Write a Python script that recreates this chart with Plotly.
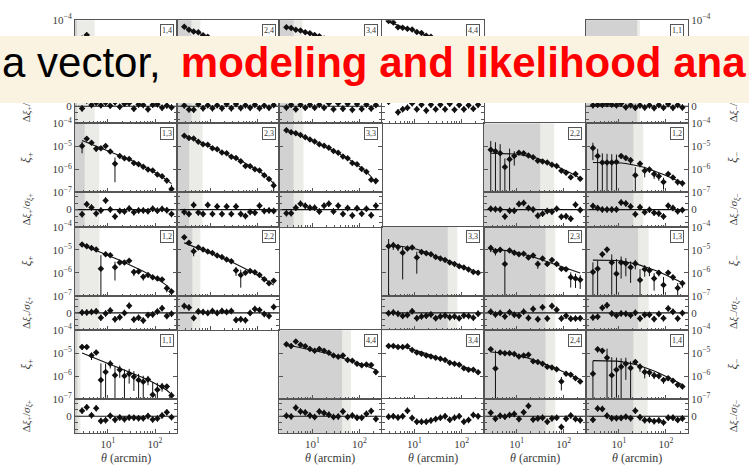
import plotly.graph_objects as go

# ---------------- data ----------------
THETA = [2.82, 3.55, 4.47, 5.62, 7.08, 8.91, 11.2, 14.1, 17.8, 22.4,
         28.2, 35.5, 44.7, 56.2, 70.8, 89.1, 112.0, 141.0, 178.0, 224.0]

# log10 model, log10 data, relative sigma for each tomographic panel
m_p14 = [-4.72,-4.78,-4.85,-4.92,-4.99,-5.06,-5.13,-5.21,-5.29,-5.37,-5.45,-5.54,-5.63,-5.72,-5.82,-5.93,-6.04,-6.16,-6.30,-6.46]
d_p14 = [-4.80,-4.65,-4.82,-4.85,-4.97,-5.00,-5.12,-5.15,-5.30,-5.33,-5.40,-5.58,-5.60,-5.70,-5.88,-5.90,-6.00,-6.20,-6.28,-6.50]
s_p14 = [0.25,0.20,0.18,0.16,0.15,0.14,0.13,0.12,0.12,0.12,0.12,0.12,0.13,0.13,0.14,0.15,0.16,0.18,0.20,0.25]

m_p24 = [-4.30,-4.38,-4.46,-4.55,-4.64,-4.73,-4.82,-4.91,-5.00,-5.10,-5.20,-5.30,-5.40,-5.51,-5.62,-5.74,-5.87,-6.01,-6.17,-6.38]
d_p24 = [-4.29,-4.42,-4.50,-4.53,-4.66,-4.72,-4.84,-4.90,-5.02,-5.08,-5.22,-5.28,-5.42,-5.50,-5.64,-5.72,-5.90,-6.00,-6.20,-6.35]
s_p24 = [0.10,0.09,0.08,0.08,0.07,0.07,0.07,0.07,0.07,0.07,0.07,0.07,0.08,0.08,0.09,0.10,0.11,0.12,0.14,0.18]

m_p34 = [-4.30,-4.35,-4.40,-4.46,-4.52,-4.58,-4.64,-4.71,-4.79,-4.87,-4.96,-5.05,-5.15,-5.26,-5.37,-5.49,-5.62,-5.76,-5.92,-6.12]
d_p34 = [-4.31,-4.34,-4.42,-4.45,-4.53,-4.57,-4.65,-4.70,-4.80,-4.85,-4.98,-5.03,-5.17,-5.24,-5.40,-5.47,-5.65,-5.74,-5.95,-6.10]
s_p34 = [0.06,0.05,0.05,0.05,0.05,0.05,0.05,0.05,0.05,0.05,0.05,0.05,0.06,0.06,0.06,0.07,0.08,0.09,0.10,0.12]

m_p44 = [-4.08,-4.16,-4.24,-4.31,-4.37,-4.43,-4.50,-4.57,-4.65,-4.73,-4.82,-4.91,-5.01,-5.11,-5.22,-5.34,-5.47,-5.61,-5.77,-5.95]
d_p44 = [-4.04,-4.10,-4.31,-4.33,-4.38,-4.41,-4.52,-4.56,-4.68,-4.72,-4.84,-4.90,-5.03,-5.09,-5.25,-5.33,-5.50,-5.60,-5.80,-5.93]
s_p44 = [0.07,0.06,0.08,0.05,0.05,0.05,0.05,0.05,0.05,0.05,0.05,0.05,0.05,0.06,0.06,0.06,0.07,0.08,0.09,0.11]

m_m11 = [-5.75,-5.75,-5.76,-5.77,-5.79,-5.81,-5.84,-5.88,-5.93,-5.99,-6.05,-6.12,-6.19,-6.27,-6.35,-6.44,-6.53,-6.63,-6.73,-6.84]
d_m11 = [-5.60,-5.55,-5.58,-5.52,-5.60,-5.70,-5.62,-5.98,-5.85,-6.10,-6.00,-6.20,-6.15,-6.35,-6.30,-6.50,-6.45,-6.70,-6.68,-6.90]
s_m11 = [1.5,1.3,1.2,1.1,1.0,0.9,0.8,0.7,0.6,0.5,0.45,0.4,0.35,0.3,0.3,0.3,0.3,0.3,0.3,0.35]

m_p13 = [-4.74,-4.82,-4.90,-4.98,-5.06,-5.14,-5.22,-5.30,-5.39,-5.48,-5.57,-5.66,-5.76,-5.86,-5.96,-6.07,-6.19,-6.32,-6.46,-6.62]
d_p13 = [-4.98,-4.67,-4.84,-5.10,-5.08,-4.98,-5.22,-5.75,-5.42,-5.52,-5.55,-5.72,-5.78,-5.88,-6.00,-6.05,-6.22,-6.30,-6.48,-6.85]
s_p13 = [0.30,0.25,0.22,0.20,0.18,0.16,0.15,0.30,0.15,0.15,0.15,0.15,0.16,0.17,0.18,0.19,0.20,0.22,0.25,0.30]

m_p23 = [-4.52,-4.60,-4.69,-4.78,-4.87,-4.96,-5.05,-5.14,-5.23,-5.32,-5.42,-5.52,-5.62,-5.73,-5.84,-5.96,-6.09,-6.23,-6.40,-6.62]
d_p23 = [-4.54,-4.63,-4.66,-4.80,-4.90,-4.93,-5.08,-5.12,-5.26,-5.30,-5.45,-5.50,-5.65,-5.85,-5.86,-5.99,-6.05,-6.25,-6.42,-6.70]
s_p23 = [0.06,0.05,0.05,0.05,0.05,0.05,0.05,0.05,0.05,0.05,0.05,0.05,0.05,0.12,0.06,0.07,0.08,0.10,0.15,0.40]

m_p33 = [-4.28,-4.36,-4.44,-4.53,-4.62,-4.71,-4.80,-4.89,-4.99,-5.09,-5.19,-5.30,-5.41,-5.53,-5.65,-5.79,-5.94,-6.11,-6.32,-6.65]
d_p33 = [-4.30,-4.38,-4.43,-4.50,-4.60,-4.70,-4.79,-4.90,-4.97,-5.06,-5.20,-5.28,-5.44,-5.52,-5.72,-5.78,-5.98,-6.10,-6.45,-6.50]
s_p33 = [0.04,0.04,0.04,0.04,0.04,0.04,0.04,0.04,0.04,0.04,0.04,0.04,0.05,0.05,0.08,0.06,0.07,0.09,0.15,0.35]

m_m22 = [-5.30,-5.30,-5.30,-5.31,-5.32,-5.33,-5.35,-5.38,-5.42,-5.47,-5.53,-5.60,-5.68,-5.77,-5.86,-5.95,-6.05,-6.16,-6.27,-6.40]
d_m22 = [-5.14,-5.21,-5.30,-5.90,-5.56,-5.42,-5.28,-5.30,-5.40,-5.47,-5.62,-5.66,-5.70,-5.80,-5.85,-6.06,-6.15,-6.34,-6.20,-6.41]
s_m22 = [2.0,1.8,1.5,0.35,1.1,0.5,0.10,0.10,0.10,0.10,0.10,0.10,0.10,0.10,0.10,0.10,0.10,0.12,0.12,0.14]

m_m12 = [-5.70,-5.70,-5.70,-5.70,-5.70,-5.71,-5.72,-5.74,-5.77,-5.81,-5.86,-5.92,-5.99,-6.06,-6.14,-6.22,-6.31,-6.40,-6.49,-6.58]
d_m12 = [-5.07,-5.42,-5.70,-5.70,-5.70,-5.68,-5.42,-5.50,-5.60,-6.26,-5.75,-6.06,-6.00,-6.20,-6.30,-6.55,-6.20,-6.35,-6.55,-6.60]
s_m12 = [3.0,2.0,1.5,1.4,1.3,1.2,0.45,0.40,0.5,0.45,0.4,0.35,0.3,0.28,0.25,0.25,0.25,0.25,0.25,0.28]

m_p12 = [-4.78,-4.86,-4.94,-5.02,-5.10,-5.19,-5.28,-5.37,-5.46,-5.55,-5.64,-5.74,-5.84,-5.94,-6.05,-6.16,-6.28,-6.41,-6.56,-6.78]
d_p12 = [-4.77,-4.85,-4.92,-4.99,-5.83,-5.20,-5.24,-5.76,-5.55,-5.55,-5.48,-5.97,-5.95,-6.18,-6.10,-6.20,-6.25,-6.30,-6.68,-6.82]
s_p12 = [0.20,0.18,0.16,0.15,0.55,0.14,0.13,0.30,0.14,0.14,0.20,0.20,0.15,0.18,0.16,0.17,0.18,0.20,0.25,0.30]

m_p22 = [-4.70,-4.78,-4.85,-4.92,-5.00,-5.08,-5.16,-5.25,-5.34,-5.43,-5.52,-5.62,-5.72,-5.82,-5.92,-6.03,-6.14,-6.26,-6.39,-6.54]
d_p22 = [-4.46,-4.70,-5.06,-4.90,-4.99,-5.08,-5.14,-5.25,-5.32,-5.42,-5.50,-5.90,-6.10,-6.00,-5.92,-5.98,-6.10,-6.28,-6.46,-6.35]
s_p22 = [0.35,0.12,0.25,0.10,0.09,0.08,0.08,0.08,0.08,0.08,0.08,0.22,0.30,0.15,0.10,0.10,0.11,0.13,0.16,0.30]

m_m33 = [-4.82,-4.82,-4.84,-4.86,-4.89,-4.93,-4.98,-5.04,-5.11,-5.18,-5.26,-5.34,-5.42,-5.50,-5.58,-5.66,-5.74,-5.82,-5.90,-5.99]
d_m33 = [-4.85,-4.80,-4.88,-5.13,-4.95,-4.90,-5.34,-5.10,-5.15,-5.20,-5.32,-5.38,-5.45,-5.55,-5.62,-5.72,-5.77,-5.86,-5.97,-6.00]
s_m33 = [1.0,0.4,0.3,0.5,0.2,0.15,0.35,0.12,0.10,0.09,0.08,0.08,0.08,0.08,0.08,0.08,0.08,0.09,0.10,0.10]

m_m23 = [-4.98,-4.99,-5.00,-5.02,-5.05,-5.09,-5.14,-5.19,-5.25,-5.31,-5.38,-5.45,-5.52,-5.59,-5.66,-5.73,-5.80,-5.87,-5.94,-6.01]
d_m23 = [-4.92,-5.06,-5.00,-5.62,-5.03,-5.13,-5.20,-5.17,-5.34,-5.25,-5.62,-5.38,-5.62,-5.45,-5.62,-5.83,-5.85,-6.20,-6.25,-6.31]
s_m23 = [0.40,0.30,0.25,0.70,0.20,0.15,0.15,0.12,0.12,0.12,0.22,0.10,0.12,0.18,0.10,0.12,0.12,0.30,0.30,0.30]

m_m13 = [-5.45,-5.45,-5.45,-5.45,-5.46,-5.47,-5.49,-5.52,-5.56,-5.61,-5.67,-5.73,-5.80,-5.88,-5.96,-6.05,-6.14,-6.24,-6.34,-6.45]
d_m13 = [-5.97,-5.83,-5.20,-4.99,-5.55,-6.04,-5.55,-5.60,-5.76,-5.60,-6.32,-5.85,-5.90,-6.25,-6.00,-6.53,-6.00,-6.20,-6.66,-6.46]
s_m13 = [0.5,0.5,0.5,0.8,1.0,0.9,0.7,0.6,0.5,0.45,0.45,0.4,0.35,0.3,0.28,0.4,0.28,0.3,0.3,0.35]

m_p11 = [-5.00,-5.08,-5.16,-5.24,-5.32,-5.40,-5.48,-5.56,-5.64,-5.72,-5.80,-5.89,-5.98,-6.07,-6.16,-6.26,-6.37,-6.49,-6.62,-6.80]
d_p11 = [-4.73,-4.73,-5.11,-4.97,-6.17,-5.82,-5.46,-5.96,-5.73,-6.00,-5.90,-6.03,-6.17,-6.25,-6.15,-6.81,-6.60,-6.45,-6.45,-6.85]
s_p11 = [0.50,0.45,0.40,0.35,0.60,0.50,0.40,0.55,0.45,0.50,0.50,0.55,0.55,0.55,0.45,0.70,0.60,0.45,0.40,0.40]

m_m44 = [-4.64,-4.68,-4.72,-4.76,-4.80,-4.84,-4.88,-4.93,-4.98,-5.03,-5.09,-5.15,-5.21,-5.28,-5.35,-5.42,-5.49,-5.56,-5.64,-5.73]
d_m44 = [-4.62,-4.69,-4.50,-4.64,-4.70,-4.82,-4.90,-4.82,-4.90,-4.99,-5.11,-5.16,-5.10,-5.30,-5.33,-5.46,-5.53,-5.50,-5.52,-5.82]
s_m44 = [0.25,0.25,0.25,0.22,0.22,0.20,0.20,0.20,0.20,0.20,0.20,0.20,0.20,0.20,0.20,0.20,0.20,0.20,0.20,0.22]

m_m34 = [-4.68,-4.69,-4.71,-4.74,-4.78,-4.83,-4.89,-4.95,-5.02,-5.09,-5.16,-5.23,-5.30,-5.37,-5.44,-5.51,-5.58,-5.66,-5.74,-5.83]
d_m34 = [-4.69,-4.69,-4.73,-4.74,-4.70,-4.86,-4.97,-5.03,-5.10,-5.15,-5.20,-5.25,-5.30,-5.42,-5.46,-5.51,-5.66,-5.72,-5.72,-5.83]
s_m34 = [0.14,0.13,0.12,0.12,0.12,0.12,0.10,0.10,0.10,0.10,0.10,0.10,0.10,0.10,0.10,0.10,0.10,0.11,0.12,0.13]

m_m24 = [-4.95,-4.96,-4.98,-5.00,-5.03,-5.07,-5.11,-5.16,-5.22,-5.29,-5.36,-5.44,-5.52,-5.60,-5.68,-5.77,-5.86,-5.95,-6.05,-6.15]
d_m24 = [-4.83,-5.67,-4.97,-5.01,-5.01,-5.04,-5.15,-5.11,-5.07,-5.36,-5.39,-5.46,-5.60,-5.63,-5.70,-6.24,-5.90,-5.94,-6.10,-6.24]
s_m24 = [0.30,1.00,0.20,0.15,0.12,0.10,0.10,0.10,0.13,0.15,0.10,0.10,0.10,0.10,0.10,0.20,0.12,0.12,0.13,0.15]

m_m14 = [-5.33,-5.33,-5.33,-5.33,-5.34,-5.35,-5.37,-5.40,-5.44,-5.49,-5.55,-5.62,-5.70,-5.78,-5.87,-5.96,-6.06,-6.16,-6.27,-6.38]
d_m14 = [-5.90,-4.83,-4.90,-5.20,-5.96,-5.73,-5.60,-5.46,-5.65,-5.39,-5.60,-5.82,-5.85,-5.96,-6.00,-6.17,-6.10,-6.20,-6.38,-6.45]
s_m14 = [0.70,0.90,0.75,2.00,1.20,1.00,0.80,0.70,0.60,0.15,0.35,0.30,0.25,0.22,0.20,0.20,0.20,0.20,0.20,0.22]

LABELS = ["1,4", "2,4", "3,4", "4,4", "1,1",
          "1,3", "2,3", "3,3", "2,2", "1,2",
          "1,2", "2,2", "3,3", "2,3", "1,3",
          "1,1", "4,4", "3,4", "2,4", "1,4"]
MODELS = [m_p14, m_p24, m_p34, m_p44, m_m11, m_p13, m_p23, m_p33, m_m22, m_m12,
          m_p12, m_p22, m_m33, m_m23, m_m13, m_p11, m_m44, m_m34, m_m24, m_m14]
DATAS = [d_p14, d_p24, d_p34, d_p44, d_m11, d_p13, d_p23, d_p33, d_m22, d_m12,
         d_p12, d_p22, d_m33, d_m23, d_m13, d_p11, d_m44, d_m34, d_m24, d_m14]
SIGMAS = [s_p14, s_p24, s_p34, s_p44, s_m11, s_p13, s_p23, s_p33, s_m22, s_m12,
          s_p12, s_p22, s_m33, s_m23, s_m13, s_p11, s_m44, s_m34, s_m24, s_m14]
# scale cuts (arcmin): dark = excluded, light = extra cut
CUT_DARK = [2.2, 4.0, 4.0, 3.3, 24.5, 3.2, 3.6, 4.0, 31.6, 20.4,
            2.5, 4.2, 51.0, 41.0, 25.7, 2.24, 43.0, 51.0, 41.0, 20.4]
CUT_LIGHT = [5.2, 6.2, 6.2, 4.4, 28.0, 6.5, 6.9, 6.5, 63.0, 33.0,
             6.6, 6.2, 81.0, 66.0, 43.0, 2.6, 66.0, 81.0, 66.0, 41.0]

X_MAJOR = [10, 100]
X_MAJOR_TEXT = ["10<sup>1</sup>", "10<sup>2</sup>"]
X_MINOR = [3, 4, 5, 6, 7, 8, 9, 20, 30, 40, 50, 60, 70, 80, 90, 200]
Y_MAJOR = [1e-7, 1e-6, 1e-5, 1e-4]
Y_MAJOR_TEXT = ["10<sup>−7</sup>", "10<sup>−6</sup>", "10<sup>−5</sup>", "10<sup>−4</sup>"]
R_TICKS = [-4, -2, 0, 2, 4]
R_TICK_TEXT = ["", "", "0", "", ""]

# ---------------- layout (grid positions in pixels) ----------------
GRID = [(0, 0), (0, 1), (0, 2), (0, 3), (0, 5),
        (1, 0), (1, 1), (1, 2), (1, 4), (1, 5),
        (2, 0), (2, 1), (2, 3), (2, 4), (2, 5),
        (3, 0), (3, 2), (3, 3), (3, 4), (3, 5)]
W, H = 749, 471
COL_L, COL_W = 75.0, 102.17
ROW_T, ROW_H, XI_H = 12.5, 106.5, 71.0
SERIF = "Liberation Serif"
FRAME = "#555555"
TXT = "#3a3a3a"
DARK = "#d2d2d2"
LIGHT = "#ebebe7"
BANNER_TOP, BANNER_BOT = 30, 97


def px(x):
    return x / W


def py(y):
    return 1 - y / H


def ax_name(kind, n):
    return kind if n == 1 else f"{kind}{n}"


fig = go.Figure()
layout = {}
shapes = []
annotations = []
tickfont = dict(family=SERIF, size=11, color=TXT)

for k, (r, c) in enumerate(GRID):
    n1, n2 = 2 * k + 1, 2 * k + 2
    x1n, y1n, x2n, y2n = ax_name("x", n1), ax_name("y", n1), ax_name("x", n2), ax_name("y", n2)
    left = COL_L + COL_W * c
    right = left + COL_W
    top = ROW_T + ROW_H * r
    mid = top + XI_H
    bot = top + ROW_H
    xdom = [px(left), px(right)]

    xbase = dict(type="log", range=[0.3, 2.47], domain=xdom, showgrid=False, zeroline=False,
                 showline=True, linecolor=FRAME, linewidth=1, mirror=True,
                 tickmode="array", tickvals=X_MAJOR, ticktext=X_MAJOR_TEXT,
                 ticks="inside", ticklen=4, tickcolor=FRAME, tickfont=tickfont,
                 minor=dict(tickmode="array", tickvals=X_MINOR, ticks="inside", ticklen=2,
                            tickcolor=FRAME),
                 fixedrange=True)
    layout["xaxis" if n1 == 1 else f"xaxis{n1}"] = dict(xbase, anchor=y1n, showticklabels=False)
    layout[f"xaxis{n2}"] = dict(xbase, anchor=y2n, showticklabels=(r == 3))

    side = "right" if c == 5 else "left"
    show_y = c in (0, 5)
    layout["yaxis" if n1 == 1 else f"yaxis{n1}"] = dict(
        type="log", range=[-7, -4], domain=[py(mid), py(top)], anchor=x1n,
        showgrid=False, zeroline=False, showline=True, linecolor=FRAME, linewidth=1,
        mirror="ticks", tickmode="array", tickvals=Y_MAJOR, ticktext=Y_MAJOR_TEXT,
        ticks="inside", ticklen=4, tickcolor=FRAME, side=side,
        showticklabels=show_y, tickfont=tickfont, fixedrange=True)
    layout[f"yaxis{n2}"] = dict(
        range=[-5.3, 5.3], domain=[py(bot), py(mid)], anchor=x2n,
        showgrid=False, zeroline=False, showline=True, linecolor=FRAME, linewidth=1,
        mirror="ticks", tickmode="array", tickvals=R_TICKS, ticktext=R_TICK_TEXT,
        ticks="inside", ticklen=3, tickcolor=FRAME, side=side,
        showticklabels=show_y, tickfont=tickfont, fixedrange=True)

    m = [10 ** v for v in MODELS[k]]
    d = [10 ** v for v in DATAS[k]]
    err = [s * mv for s, mv in zip(SIGMAS[k], m)]
    res = [(dv - mv) / e for dv, mv, e in zip(d, m, err)]

    # shading (scale cuts)
    for xr, yr in ((x1n, y1n), (x2n, y2n)):
        shapes.append(dict(type="rect", xref=xr, yref=f"{yr} domain", x0=1, x1=CUT_LIGHT[k],
                           y0=0, y1=1, fillcolor=LIGHT, line=dict(width=0), layer="below"))
        shapes.append(dict(type="rect", xref=xr, yref=f"{yr} domain", x0=1, x1=CUT_DARK[k],
                           y0=0, y1=1, fillcolor=DARK, line=dict(width=0), layer="below"))
    shapes.append(dict(type="line", xref=f"{x2n} domain", yref=y2n, x0=0, x1=1, y0=0, y1=0,
                       line=dict(color="#111111", width=1.2), layer="below"))

    fig.add_trace(go.Scatter(x=THETA, y=m, mode="lines", xaxis=x1n, yaxis=y1n,
                             line=dict(color="#111111", width=1.1), hoverinfo="skip"))
    fig.add_trace(go.Scatter(x=THETA, y=d, mode="markers", xaxis=x1n, yaxis=y1n,
                             marker=dict(symbol="diamond", size=5, color="#111111"),
                             error_y=dict(type="data", array=err, thickness=1, width=0,
                                          color="#111111")))
    fig.add_trace(go.Scatter(x=THETA, y=res, mode="markers", xaxis=x2n, yaxis=y2n,
                             marker=dict(symbol="diamond", size=5, color="#111111"),
                             error_y=dict(type="constant", value=1, thickness=1, width=0,
                                          color="#111111")))

    annotations.append(dict(xref=f"{x1n} domain", yref=f"{y1n} domain", x=0.965, y=0.95,
                            xanchor="right", yanchor="top", text=LABELS[k], showarrow=False,
                            font=dict(family=SERIF, size=8, color="#333333"),
                            bordercolor="#555555", borderwidth=1, borderpad=1, bgcolor="white"))

# axis titles
for r in range(4):
    top = ROW_T + ROW_H * r
    for xpix, sign in ((27, "+"), (734, "−")):
        annotations.append(dict(xref="paper", yref="paper", x=px(xpix), y=py(top + XI_H / 2),
                                xanchor="center", yanchor="middle",
                                text=f"<i>ξ</i><sub>{sign}</sub>", textangle=-90, showarrow=False,
                                font=dict(family=SERIF, size=13, color=TXT)))
        annotations.append(dict(xref="paper", yref="paper", x=px(xpix),
                                y=py(top + XI_H + (ROW_H - XI_H) / 2),
                                xanchor="center", yanchor="middle",
                                text=f"Δ<i>ξ</i><sub>{sign}</sub>/<i>σ</i><sub><i>ξ</i>{sign}</sub>",
                                textangle=-90, showarrow=False,
                                font=dict(family=SERIF, size=11, color=TXT)))
for c in (0, 2, 3, 4, 5):
    annotations.append(dict(xref="paper", yref="paper", x=px(COL_L + COL_W * (c + 0.5)), y=py(464),
                            xanchor="center", yanchor="middle",
                            text="<i>θ</i> (arcmin)", showarrow=False,
                            font=dict(family=SERIF, size=12, color=TXT)))

# slide banner overlay (drawn as an annotation box so it covers the text beneath)
annotations.append(dict(xref="paper", yref="paper", x=0.5, y=py((BANNER_TOP + BANNER_BOT) / 2),
                        xanchor="center", yanchor="middle", text=" ", showarrow=False,
                        width=W + 20, height=BANNER_BOT - BANNER_TOP, bgcolor="#fbf3e2",
                        borderpad=0, borderwidth=0, font=dict(size=10)))
annotations.append(dict(xref="paper", yref="paper", x=0, y=py(56), xanchor="left", yanchor="middle",
                        text="a vector,\u2009 <span style='color:#ff0000'><b>modeling and likelihood ana</b></span>",
                        showarrow=False, font=dict(family="Liberation Sans", size=42, color="#000000")))

fig.update_layout(width=W, height=H, margin=dict(l=0, r=0, t=0, b=0),
                  paper_bgcolor="white", plot_bgcolor="white", showlegend=False,
                  shapes=shapes, annotations=annotations, **layout)
fig.write_html("out.html", config={"displayModeBar": False},
               post_script="document.body.style.margin='0';document.body.style.overflow='hidden';")
